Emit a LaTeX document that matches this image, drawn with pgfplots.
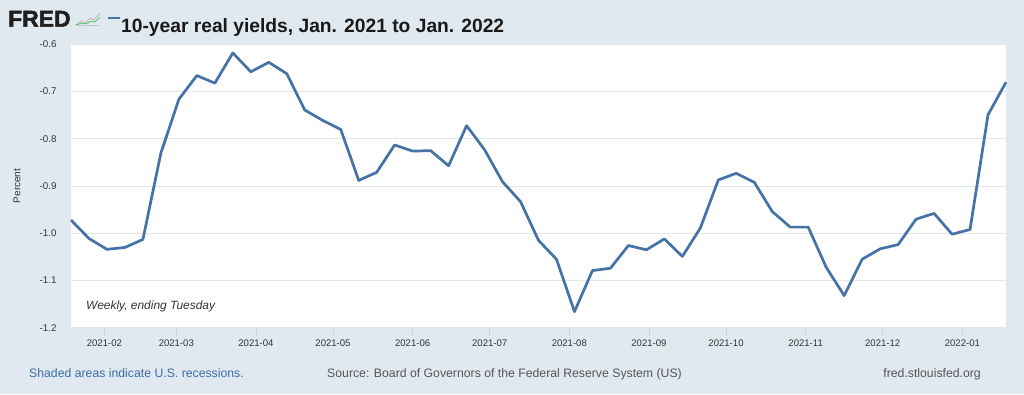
\documentclass[border=0pt]{standalone}
\usepackage{pgfplots}
\pgfplotsset{compat=1.18}
\usepackage{fontspec}
\setmainfont{Liberation Sans}
\newfontfamily\fredfont{Liberation Sans}[BoldFeatures={FakeBold=2.2}]
\definecolor{bgc}{HTML}{E1E9F0}
\definecolor{linec}{HTML}{4572A7}
\definecolor{gridc}{HTML}{E6E6E6}
\definecolor{tickc}{HTML}{CCD6EB}
\definecolor{labc}{HTML}{333333}
\definecolor{srcc}{HTML}{555555}
\definecolor{shadc}{HTML}{3C6DA5}
\begin{document}
\begin{tikzpicture}[x=1bp,y=1bp]
\fill[bgc] (0,0) rectangle (1024,394);
\useasboundingbox (0,0) rectangle (1024,394);
\begin{axis}[
  at={(71bp,66.3bp)}, anchor=south west,
  width=935bp, height=283.3bp, scale only axis,
  xmin=18, xmax=382, ymin=-1.2, ymax=-0.6,
  axis background/.style={fill=white},
  axis line style={draw=none},
  ymajorgrids, grid style={gridc, line width=0.8bp},
  ytick={-1.2,-1.1,-1.0,-0.9,-0.8,-0.7,-0.6},
  yticklabels={-1.2,-1.1,-1.0,-0.9,-0.8,-0.7,-0.6},
  xtick={31,59,90,120,151,181,212,243,273,304,334,365},
  xticklabels={2021-02,2021-03,2021-04,2021-05,2021-06,2021-07,2021-08,2021-09,2021-10,2021-11,2021-12,2022-01},
  xtick pos=bottom, ytick pos=left,
  tick align=outside,
  major tick length=8bp,
  x tick style={tickc, line width=0.8bp},
  y tick style={draw=none},
  xticklabel style={font=\fontsize{9.6}{11}\selectfont, text=labc, yshift=-1bp},
  yticklabel style={font=\fontsize{9.8}{11}\selectfont, text=labc, xshift=-3bp},
  clip=false,
]
\addplot[linec, line width=2.7bp, line join=round] coordinates {
(18,-0.972) (25,-1.011) (32,-1.034) (39,-1.030) (46,-1.013)
(53,-0.830) (60,-0.716) (67,-0.666) (74,-0.682) (81,-0.618)
(88,-0.658) (95,-0.638) (102,-0.662) (109,-0.739) (116,-0.761)
(123,-0.780) (130,-0.888) (137,-0.871) (144,-0.813) (151,-0.826)
(158,-0.825) (165,-0.857) (172,-0.772) (179,-0.823) (186,-0.891)
(193,-0.933) (200,-1.015) (207,-1.055) (214,-1.166) (221,-1.079)
(228,-1.074) (235,-1.026) (242,-1.035) (249,-1.012) (256,-1.049)
(263,-0.989) (270,-0.887) (277,-0.873) (284,-0.892) (291,-0.954)
(298,-0.987) (305,-0.987) (312,-1.072) (319,-1.132) (326,-1.055)
(333,-1.033) (340,-1.024) (347,-0.970) (354,-0.958) (361,-1.002)
(368,-0.992) (375,-0.749) (382,-0.680)
};
\end{axis}
% y label
\node[rotate=90, inner sep=0pt, font=\fontsize{10}{12}\selectfont, text=labc] at (17,208) {Percent};
% title block
\node[anchor=base west, inner sep=0pt, font=\fontsize{23}{26}\fredfont\bfseries, text=black!88] at (8,367.3) {FRED};
\draw[gray!60, line width=0.7bp] (76,369) -- (81,373) -- (85,371) -- (90,376) -- (94,374) -- (100,381);
\draw[green!45!gray, line width=0.7bp] (76,369) -- (82,371) -- (86,370) -- (91,373) -- (95,372) -- (100,377);
\draw[gray!45, line width=0.5bp] (76,368.5) -- (100,368.5);
\draw[linec, line width=2.2bp] (108,376) -- (120,376);
\node[anchor=base west, inner sep=0pt, font=\fontsize{19.3}{22}\selectfont\bfseries, text=black!90] at (121,361.7) {10-year real yields, Jan. 2021 to Jan. 2022};
% note
\node[anchor=west, inner sep=0pt, font=\fontsize{12}{14}\selectfont\itshape, text=labc] at (86,87.3) {Weekly, ending Tuesday};
% footer
\node[anchor=base west, inner sep=0pt, font=\fontsize{12.3}{14}\selectfont, text=shadc] at (29,16.3) {Shaded areas indicate U.S. recessions.};
\node[anchor=base west, inner sep=0pt, font=\fontsize{12.3}{14}\selectfont, text=srcc] at (327,16.3) {Source: Board of Governors of the Federal Reserve System (US)};
\node[anchor=base east, inner sep=0pt, font=\fontsize{12.3}{14}\selectfont, text=srcc] at (981,16.3) {fred.stlouisfed.org};
\end{tikzpicture}
\end{document}
